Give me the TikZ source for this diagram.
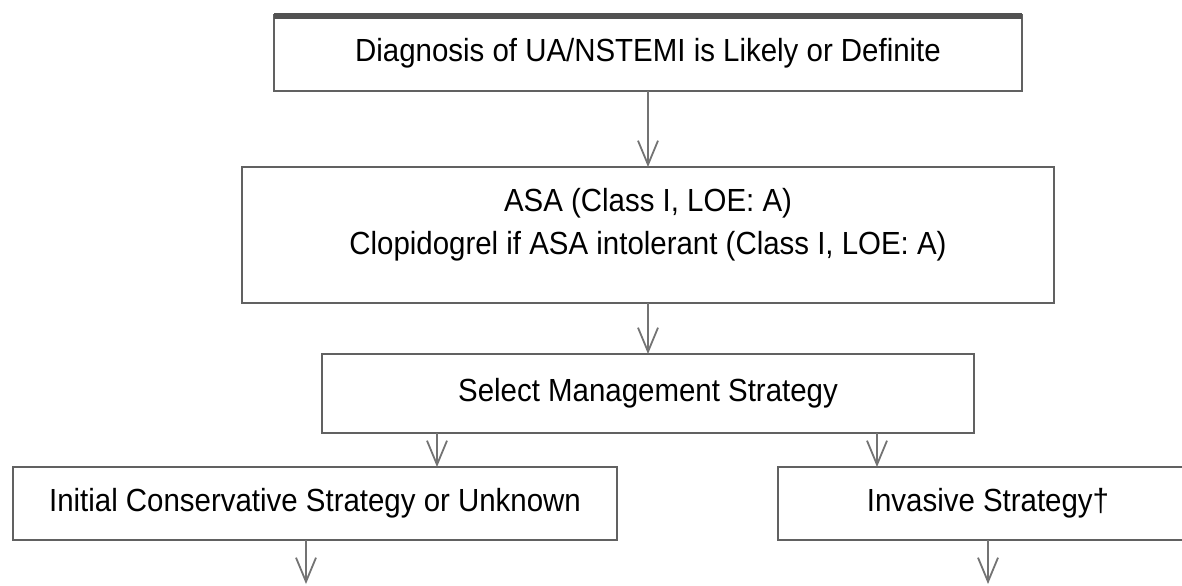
\documentclass[tikz,border=0pt]{standalone}
\usepackage{fontspec}
\setmainfont{Liberation Sans}[FakeStretch=0.92]
\usetikzlibrary{arrows.meta,positioning}

\begin{document}
\begin{tikzpicture}[node distance=25.5pt]
\tikzset{
  stepbox/.style={rectangle, draw=black!62, line width=1.3pt, fill=white, align=center,
    font=\fontsize{16}{21.5}\selectfont, inner sep=2pt, outer sep=0pt},
  flow/.style={-{Straight Barb[length=12pt,width=10pt]}, line width=0.9pt, draw=black!55}
}
\clip (0,0) rectangle (591pt,-292.5pt);

\node[stepbox, minimum width=374pt, minimum height=38pt] (diag) at (324pt,-26.5pt) {Diagnosis of UA/NSTEMI is Likely or Definite};
\node[stepbox, minimum width=406pt, minimum height=68pt, text depth=14pt, below=38pt of diag] (asa) {ASA (Class I, LOE: A)\\Clopidogrel if ASA intolerant (Class I, LOE: A)};
\node[stepbox, minimum width=326pt, minimum height=39.5pt, below=of asa] (mgmt) {Select Management Strategy};
\node[stepbox, minimum width=302pt, minimum height=36.5pt, below=17pt of mgmt, xshift=-166.5pt] (cons) {Initial Conservative Strategy or Unknown};
\node[stepbox, minimum width=210pt, minimum height=36.5pt, below=17pt of mgmt, xshift=170pt] (inv) {Invasive Strategy†};

% heavier top edge of the first box
\draw[line width=3pt, draw=black!68] ([yshift=-0.3pt]diag.north west) -- ([yshift=-0.3pt]diag.north east);

\coordinate[below=22pt of cons, xshift=-4.5pt] (consend);
\coordinate[below=22pt of inv] (invend);

\draw[flow] (diag) -- (asa);
\draw[flow] (asa) -- (mgmt);
\draw[flow] ([xshift=-105.5pt]mgmt.south) -- ([xshift=-105.5pt]mgmt.south |- cons.north);
\draw[flow] ([xshift=114.5pt]mgmt.south) -- ([xshift=114.5pt]mgmt.south |- inv.north);
\draw[flow] (cons.south -| consend) -- (consend);
\draw[flow] (inv) -- (invend);
\end{tikzpicture}
\end{document}
